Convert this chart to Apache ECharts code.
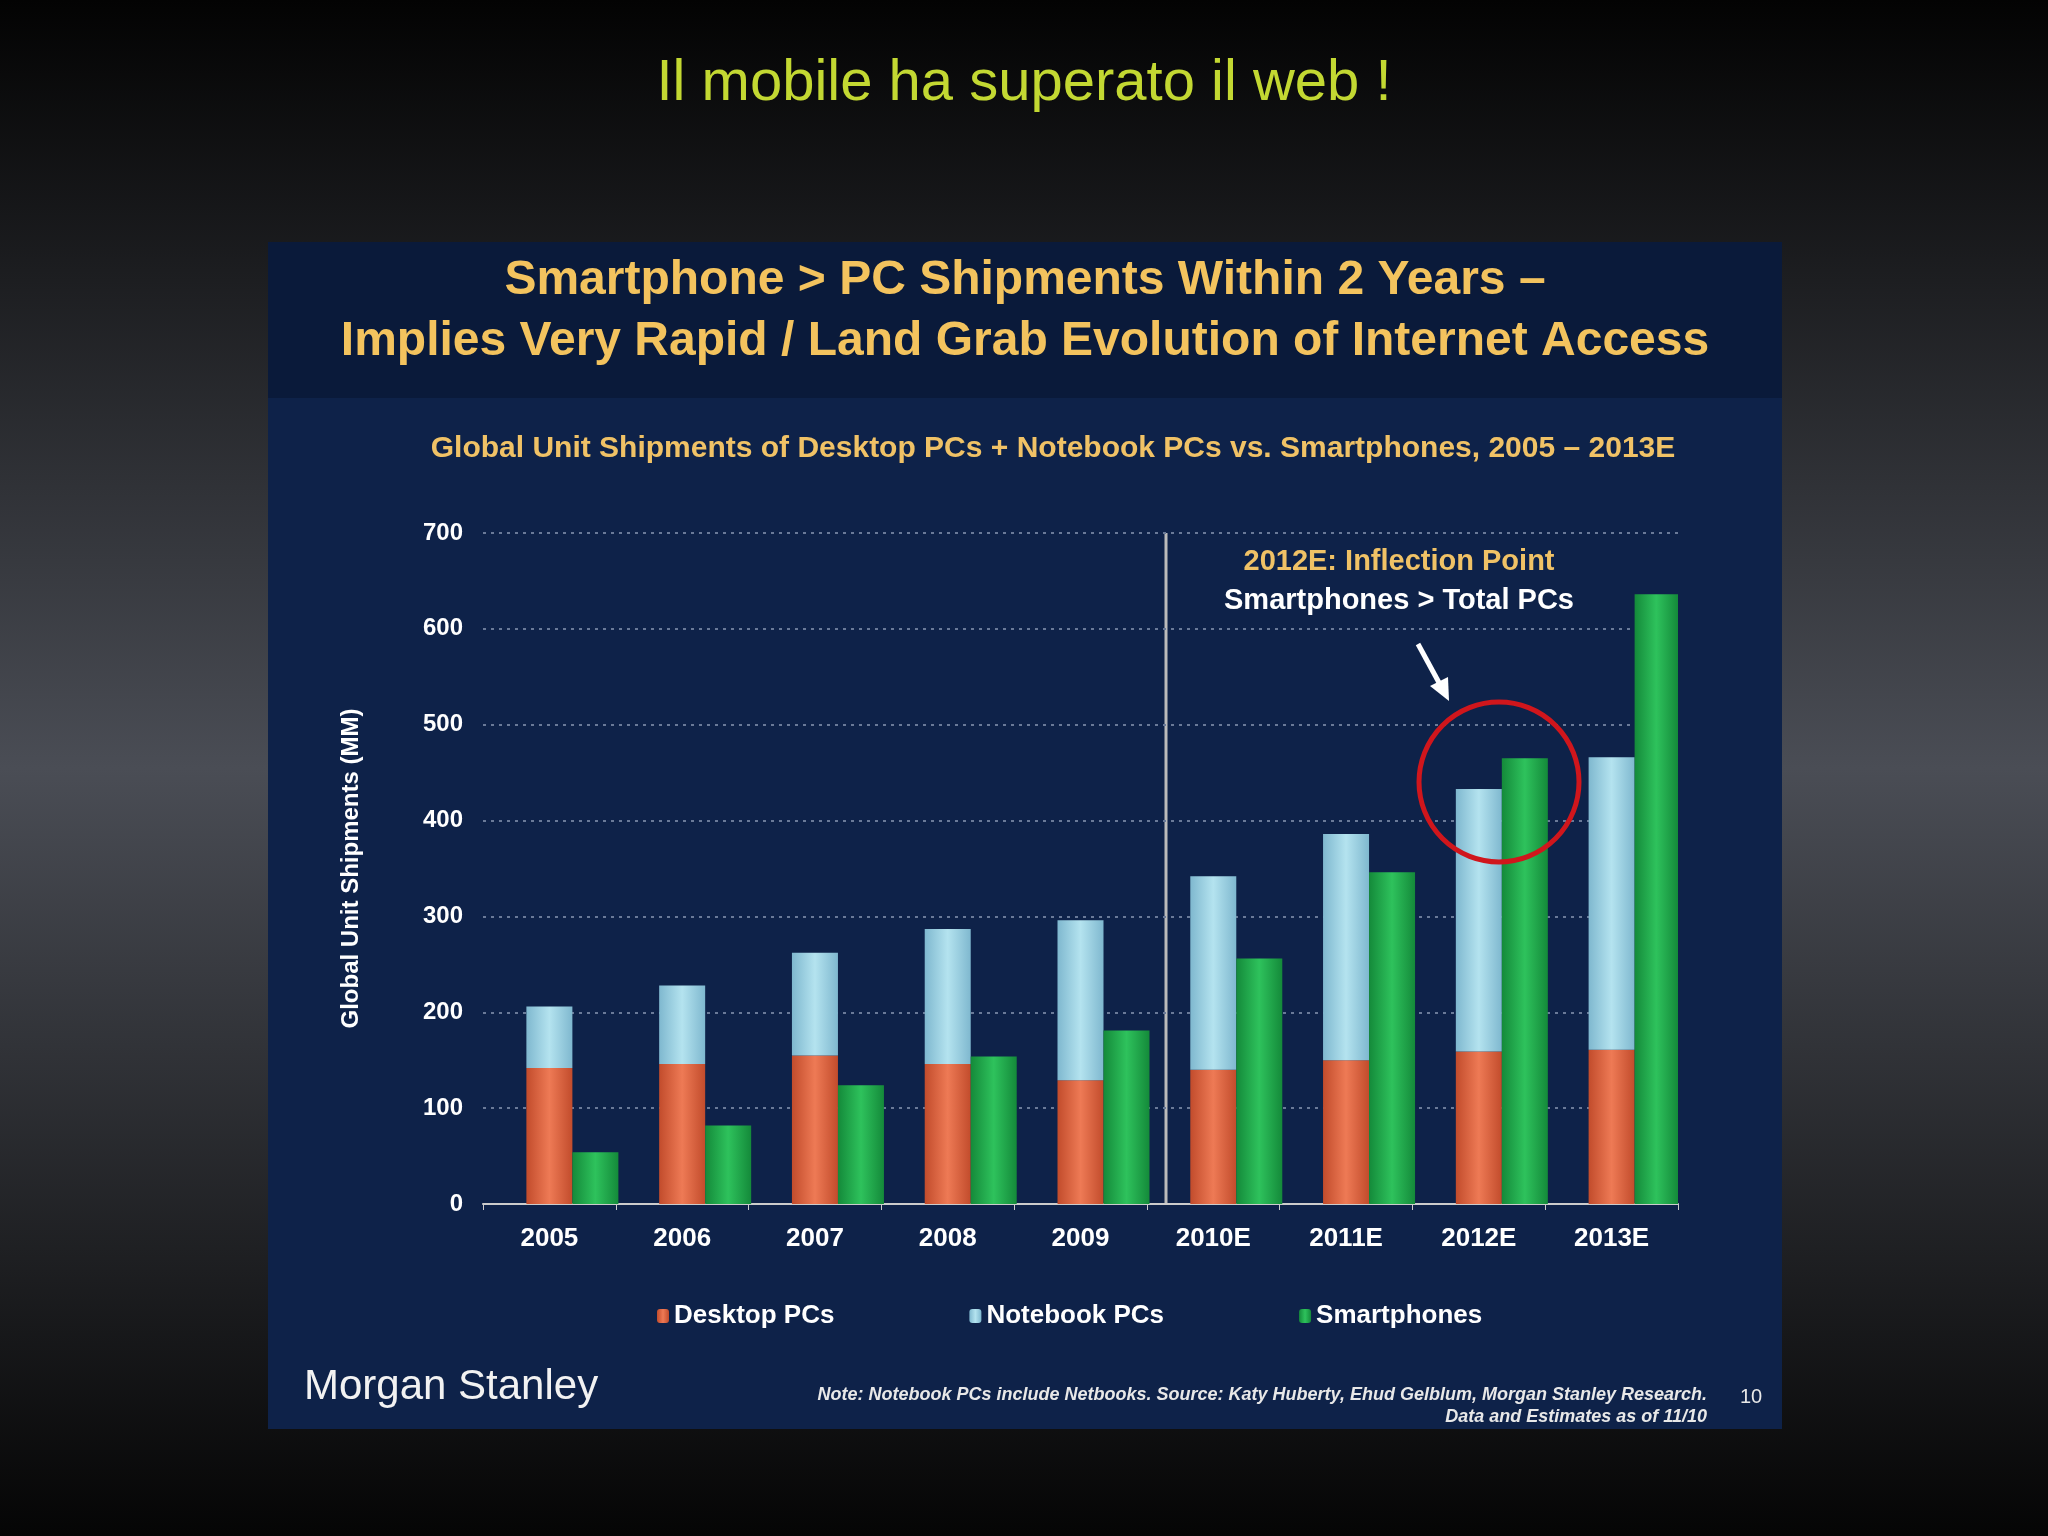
<!DOCTYPE html>
<html><head><meta charset="utf-8">
<script src="https://cdn.jsdelivr.net/npm/echarts@6/dist/echarts.min.js"></script>
<style>html,body{margin:0;padding:0;background:#000}#c{width:2048px;height:1536px}</style>
</head><body><div id="c"></div>
<script>
const categories = ['2005','2006','2007','2008','2009','2010E','2011E','2012E','2013E'];
const desktopPCs = [142,146,155,146,129,140,150,159,161];
const notebookPCs = [64,82,107,141,167,202,236,274,305];
const smartphones = [54,82,124,154,181,256,346,465,636];
const yTicks = [0,100,200,300,400,500,600,700];

function grad(c1,c2,c3){return {type:'linear',x:0,y:0,x2:1,y2:0,colorStops:[{offset:0,color:c1},{offset:0.5,color:c2},{offset:1,color:c3}]};}
const chart = echarts.init(document.getElementById('c'));
const F = 'Liberation Sans, Arial, sans-serif';
chart.setOption({
  backgroundColor:{type:'linear',x:0,y:0,x2:0,y2:1,colorStops:[{offset:0,color:'#030303'},{offset:0.5,color:'#4a4d55'},{offset:1,color:'#050505'}]},
  graphic:[
    {type:'rect',z:-10,shape:{x:268,y:242,width:1514,height:1187},style:{fill:'#0e2249'}},
    {type:'rect',z:-9,shape:{x:268,y:242,width:1514,height:156},style:{fill:'#0a1a3a'}},
    {type:'text',left:'center',top:55,style:{text:'Il mobile ha superato il web !',fill:'#c3d832',font:'58px '+F}},
    {type:'text',x:1025,y:281,style:{text:'Smartphone > PC Shipments Within 2 Years –',fill:'#f3c35e',font:'bold 48px '+F,align:'center',verticalAlign:'middle'}},
    {type:'text',x:1025,y:342,style:{text:'Implies Very Rapid / Land Grab Evolution of Internet Access',fill:'#f3c35e',font:'bold 48px '+F,align:'center',verticalAlign:'middle'}},
    {type:'text',x:1053,y:449,style:{text:'Global Unit Shipments of Desktop PCs + Notebook PCs vs. Smartphones, 2005 – 2013E',fill:'#f0c266',font:'bold 30px '+F,align:'center',verticalAlign:'middle'}},
    {type:'line',shape:{x1:1166,y1:533,x2:1166,y2:1204},style:{stroke:'#bbbbbb',lineWidth:3}},
    {type:'text',x:1399,y:562,style:{text:'2012E: Inflection Point',fill:'#f0c266',font:'bold 29px '+F,align:'center',verticalAlign:'middle'}},
    {type:'text',x:1399,y:601,style:{text:'Smartphones > Total PCs',fill:'#ffffff',font:'bold 29px '+F,align:'center',verticalAlign:'middle'}},
    {type:'line',shape:{x1:1418,y1:644,x2:1443,y2:690},style:{stroke:'#ffffff',lineWidth:5}},
    {type:'polygon',shape:{points:[[1449,701],[1430,686],[1448,677]]},style:{fill:'#ffffff'}},
    {type:'circle',z:100,shape:{cx:1499,cy:782,r:80},style:{fill:'none',stroke:'#d0161c',lineWidth:5}},
    {type:'text',x:304,y:1387,style:{text:'Morgan Stanley',fill:'#f2f2f2',font:'42px '+F,verticalAlign:'middle'}},
    {type:'text',x:1707,y:1395,style:{text:'Note: Notebook PCs include Netbooks. Source: Katy Huberty, Ehud Gelblum, Morgan Stanley Research.',fill:'#e8e8e8',font:'italic bold 18px '+F,align:'right',verticalAlign:'middle'}},
    {type:'text',x:1707,y:1417,style:{text:'Data and Estimates as of 11/10',fill:'#e8e8e8',font:'italic bold 18px '+F,align:'right',verticalAlign:'middle'}},
    {type:'text',x:1751,y:1397,style:{text:'10',fill:'#e8e8e8',font:'20px '+F,align:'center',verticalAlign:'middle'}}
  ],
  legend:{left:652,top:1298,itemWidth:12,itemHeight:14,itemGap:135,textStyle:{color:'#fff',fontWeight:'bold',fontSize:26,fontFamily:F},
    data:['Desktop PCs','Notebook PCs','Smartphones']},
  grid:{left:483,right:2048-1678,top:533,bottom:1536-1204},
  xAxis:{type:'category',data:categories,axisLine:{lineStyle:{color:'#ccc',width:2}},axisTick:{show:true,length:6,lineStyle:{color:'#ccc'}},
    axisLabel:{color:'#fff',fontWeight:'bold',fontSize:26,fontFamily:F,margin:22}},
  yAxis:{type:'value',min:0,max:700,interval:100,name:'Global Unit Shipments (MM)',nameLocation:'middle',nameGap:120,
    nameTextStyle:{color:'#fff',fontWeight:'bold',fontSize:24,fontFamily:F},
    axisLabel:{color:'#fff',fontWeight:'bold',fontSize:24,fontFamily:F,margin:20,formatter:v=>yTicks.includes(v)?String(v):''},
    splitLine:{lineStyle:{color:'#6a7a98',type:[3,5],width:2}},axisLine:{show:false}},
  series:[
    {name:'spacer',type:'bar',barWidth:46,barGap:'0%',data:[],silent:true},
    {name:'Desktop PCs',type:'bar',stack:'pc',barWidth:46,barGap:'0%',data:desktopPCs,itemStyle:{color:grad('#c24c2c','#ee7a55','#c24c2c')}},
    {name:'Notebook PCs',type:'bar',stack:'pc',barWidth:46,data:notebookPCs,itemStyle:{color:grad('#7fb8cf','#b4e3ef','#7fb8cf')}},
    {name:'Smartphones',type:'bar',barWidth:46,data:smartphones,itemStyle:{color:grad('#148a3a','#2ec25c','#148a3a')}}
  ]
});
</script></body></html>
